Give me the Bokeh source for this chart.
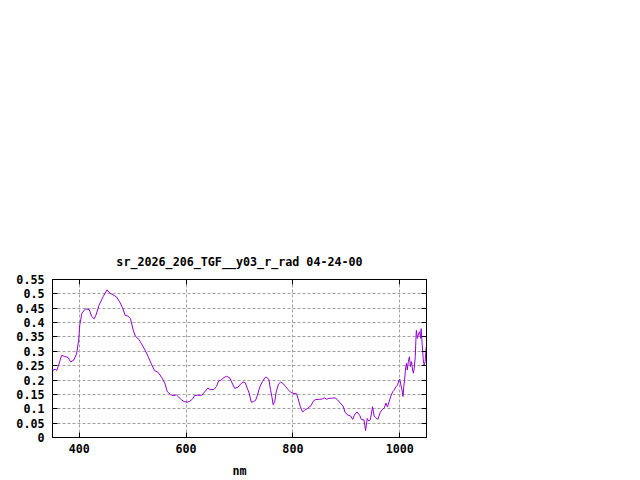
from bokeh.plotting import figure
from bokeh.models import Range1d, FixedTicker, LinearAxis
from bokeh.embed import file_html
from bokeh.resources import INLINE

title_text = "sr_2026_206_TGF__y03_r_rad 04-24-00"
x_label = "nm"

wavelength = [350, 355, 358, 362, 367, 373, 379, 384, 390, 395, 399, 401, 405, 412, 419, 423, 428, 432, 437, 445,
              452, 457, 463, 470, 476, 481, 486, 491, 496, 501, 505, 512, 516, 523, 529, 535, 541, 548, 554, 560,
              565, 571, 576, 582, 586, 591, 596, 602, 607, 612, 616, 622, 629, 633, 641, 645, 652, 657, 661, 665,
              671, 676, 682, 686, 691, 697, 702, 707, 711, 715, 718, 722, 726, 730, 733, 738, 743, 748, 751, 755,
              758, 761, 763, 766, 769, 773, 777, 782, 786, 791, 796, 802, 807, 811, 814, 818, 822, 828, 834, 838,
              842, 849, 855, 859, 863, 867, 874, 879, 883, 888, 894, 898, 903, 908, 912, 915, 920, 925, 928, 933,
              936, 939, 942, 945, 949, 952, 955, 959, 963, 967, 971, 974, 977, 981, 984, 987, 989, 993, 996, 998,
              1000, 1002, 1004, 1006, 1007.5, 1009, 1010.5, 1012.5, 1014, 1016, 1018, 1020, 1022, 1024, 1025.5,
              1027, 1029, 1030, 1031, 1033, 1035, 1037, 1039, 1040, 1042, 1044, 1045.5, 1047.5, 1049.5]
radiance = [0.233, 0.238, 0.233, 0.255, 0.286, 0.282, 0.279, 0.263, 0.270, 0.291, 0.339, 0.391, 0.433, 0.448, 0.445,
            0.422, 0.413, 0.429, 0.460, 0.491, 0.514, 0.503, 0.497, 0.489, 0.471, 0.452, 0.425, 0.423, 0.414, 0.374,
            0.353, 0.341, 0.328, 0.305, 0.282, 0.256, 0.233, 0.226, 0.210, 0.190, 0.159, 0.149, 0.146, 0.148, 0.141,
            0.132, 0.125, 0.123, 0.126, 0.134, 0.146, 0.147, 0.147, 0.155, 0.172, 0.167, 0.167, 0.178, 0.197, 0.199,
            0.209, 0.213, 0.207, 0.190, 0.171, 0.175, 0.186, 0.193, 0.190, 0.169, 0.155, 0.123, 0.125, 0.129, 0.144,
            0.176, 0.195, 0.209, 0.210, 0.201, 0.167, 0.138, 0.114, 0.126, 0.161, 0.186, 0.193, 0.187, 0.178, 0.167,
            0.157, 0.153, 0.152, 0.126, 0.107, 0.089, 0.095, 0.102, 0.111, 0.126, 0.132, 0.133, 0.134, 0.138, 0.133,
            0.136, 0.137, 0.138, 0.132, 0.121, 0.109, 0.086, 0.078, 0.075, 0.063, 0.078, 0.089, 0.077, 0.063, 0.061,
            0.024, 0.066, 0.057, 0.063, 0.107, 0.075, 0.069, 0.063, 0.086, 0.097, 0.103, 0.120, 0.106, 0.131, 0.148,
            0.160, 0.164, 0.177, 0.183, 0.198, 0.203, 0.183, 0.166, 0.143, 0.177, 0.200, 0.235, 0.258, 0.235, 0.264,
            0.281, 0.247, 0.264, 0.235, 0.224, 0.241, 0.281, 0.333, 0.373, 0.345, 0.362, 0.368, 0.345, 0.379, 0.322,
            0.270, 0.252, 0.264, 0.316]

x_ticks = [400, 600, 800, 1000]
y_ticks = [0, 0.05, 0.1, 0.15, 0.2, 0.25, 0.3, 0.35, 0.4, 0.45, 0.5, 0.55]
y_tick_labels = ["0", "0.05", "0.1", "0.15", "0.2", "0.25", "0.3", "0.35", "0.4", "0.45", "0.5", "0.55"]

FONT = "DejaVu Sans Mono"
FS = "11.7px"

p = figure(width=640, height=480, output_backend="svg", toolbar_location=None,
           x_range=Range1d(350, 1050), y_range=Range1d(0, 0.55),
           min_border_left=52, min_border_right=214, min_border_top=279, min_border_bottom=42,
           background_fill_color="white", border_fill_color="white")
p.outline_line_color = "black"
p.outline_line_width = 1

p.line(wavelength, radiance, line_color="#9400d3", line_width=1)

for ax in (p.xaxis[0], p.yaxis[0]):
    ax.major_tick_in = 5
    ax.major_tick_out = 0
    ax.minor_tick_in = 0
    ax.minor_tick_out = 0
    ax.axis_line_color = "black"
    ax.major_tick_line_color = "black"
    ax.major_label_text_font = FONT
    ax.major_label_text_font_size = FS
    ax.major_label_text_font_style = "bold"
    ax.major_label_text_color = "black"

p.xaxis[0].ticker = FixedTicker(ticks=x_ticks)
p.yaxis[0].ticker = FixedTicker(ticks=y_ticks)
p.yaxis[0].major_label_overrides = {t: l for t, l in zip(y_ticks, y_tick_labels)}
p.xaxis[0].major_label_standoff = 6
p.yaxis[0].major_label_standoff = 8

p.xaxis[0].axis_label = x_label
p.xaxis[0].axis_label_text_font = FONT
p.xaxis[0].axis_label_text_font_size = FS
p.xaxis[0].axis_label_text_font_style = "bold"
p.xaxis[0].axis_label_text_color = "black"
p.xaxis[0].axis_label_standoff = 8

right_ax = LinearAxis(ticker=FixedTicker(ticks=y_ticks), major_tick_in=5, major_tick_out=0,
                      minor_tick_in=0, minor_tick_out=0, major_label_text_color=None,
                      major_label_text_font_size="0px", major_label_standoff=0,
                      axis_line_color="black")
top_ax = LinearAxis(ticker=FixedTicker(ticks=x_ticks), major_tick_in=5, major_tick_out=0,
                    minor_tick_in=0, minor_tick_out=0, major_label_text_color=None,
                    major_label_text_font_size="0px", major_label_standoff=0,
                    axis_line_color="black")
p.add_layout(right_ax, "right")
p.add_layout(top_ax, "above")

p.title.text = title_text
p.title.align = "center"
p.title.text_font = FONT
p.title.text_font_size = FS
p.title.text_font_style = "bold"
p.title.text_color = "black"
p.title.standoff = 22

p.xgrid.ticker = FixedTicker(ticks=x_ticks)
p.ygrid.ticker = FixedTicker(ticks=y_ticks)
for g in (p.xgrid[0], p.ygrid[0]):
    g.grid_line_color = "#a0a0a0"
    g.grid_line_dash = "3 2"
    g.grid_line_width = 1

open("out.html", "w").write(file_html(p, INLINE))
